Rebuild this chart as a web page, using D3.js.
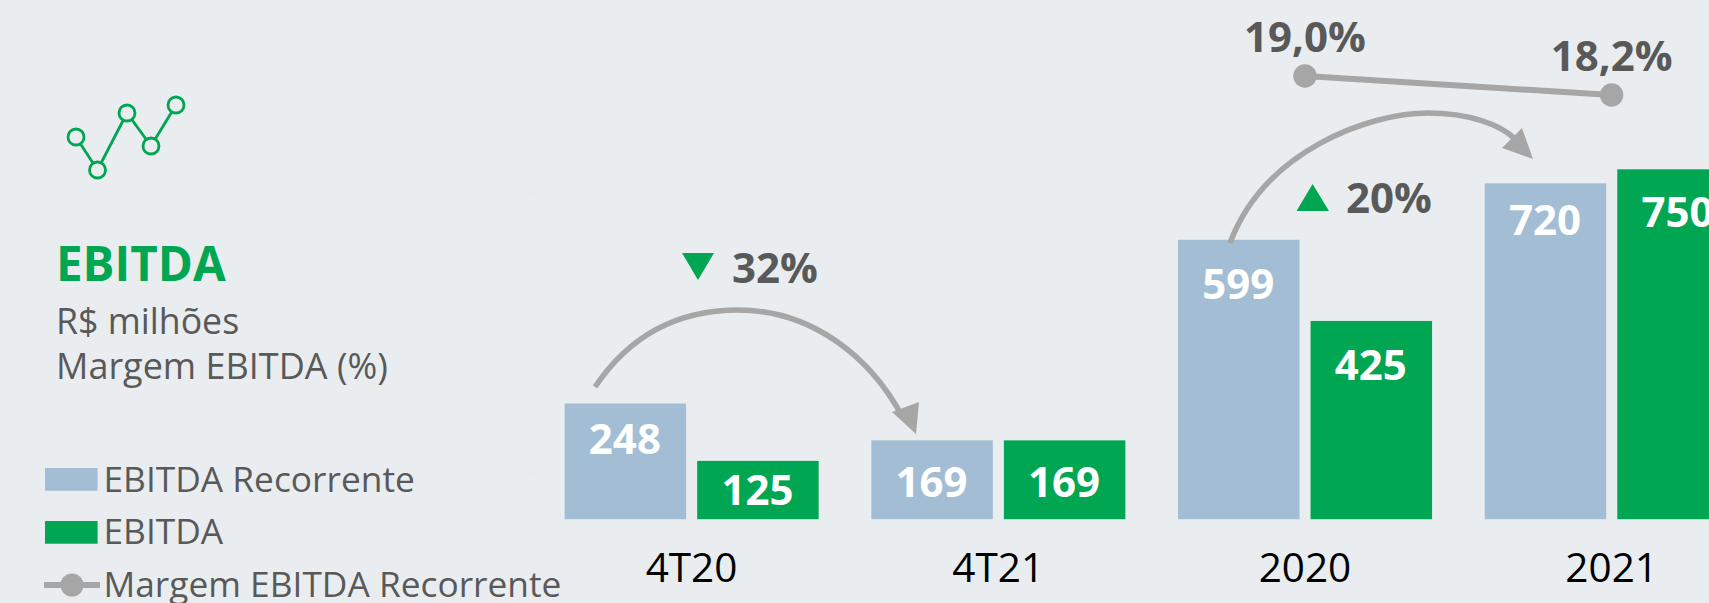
<!DOCTYPE html>
<html><head><meta charset="utf-8">
<style>
html,body{margin:0;padding:0;background:#e9edf0;overflow:hidden}
svg{display:block}
text{font-family:"Open Sans",sans-serif}
</style>
<script src="https://cdn.jsdelivr.net/npm/d3@7"></script>
</head><body><svg id="c" width="1709" height="603"></svg>
<script>
// data
const categories = ["4T20","4T21","2020","2021"];
const seriesNames = ["EBITDA Recorrente","EBITDA"];
const recorrente = [248,169,599,720];
const ebitda = [125,169,425,750];
const marginCategories = ["2020","2021"];
const marginValues = [19.0,18.2];
const marginLabels = ["19,0%","18,2%"];
const axisTicks = [100,200,300,400,500,600,700,800,900];

// layout
const W=1709,H=603,bg="#e9edf0",green="#00a651",blue="#a3bdd5",grey="#a6a6a6",ink="#595959";
const svg=d3.select("#c");
const x=d3.scaleBand().domain(categories).range([538.2,1765]).paddingInner(0.175).paddingOuter(0.0875);
const xs=d3.scaleBand().domain(seriesNames).range([-0.4,x.bandwidth()+0.6]).paddingInner(0.0833);
const y=d3.scaleLinear().domain([0,1000]).range([519.2,52.7]);
const ym=d3.scaleLinear().domain([18.2,19.0]).range([95,76]);
const colors=d3.scaleOrdinal().domain(seriesNames).range([blue,green]);

// faint axis ticks
const ax=svg.append("g").attr("transform","translate(535,0)").call(d3.axisLeft(y).tickValues(axisTicks).tickSize(4).tickFormat(""));
ax.select(".domain").remove();
ax.selectAll("line").attr("stroke","#e4e8f0");

// bars
const labelDy={ "EBITDA Recorrente":[50,57,59,52], "EBITDA":[44,57,59,58] };
[recorrente,ebitda].forEach((vals,si)=>{
  const name=seriesNames[si];
  const g=svg.append("g");
  g.selectAll("rect").data(vals).join("rect")
    .attr("x",(d,i)=>x(categories[i])+xs(name)).attr("y",d=>y(d))
    .attr("width",xs.bandwidth()).attr("height",d=>y(0)-y(d)).attr("fill",colors(name));
  g.selectAll("text").data(vals).join("text")
    .attr("x",(d,i)=>x(categories[i])+xs(name)+xs.bandwidth()/2-0.5)
    .attr("y",(d,i)=>y(d)+labelDy[name][i])
    .attr("text-anchor","middle").attr("font-size",42).attr("font-weight",700).attr("fill","#fff").text(d=>d);
});

// category labels
const xa=svg.append("g").attr("transform","translate(0,582)");
xa.selectAll("text").data(categories).join("text")
  .attr("x",d=>x(d)+x.bandwidth()/2).attr("text-anchor","middle")
  .attr("font-size",40.5).attr("fill","#000").text(d=>d);

// margin line
const mx=d=>x(d)+x.bandwidth()/2;
svg.append("path").datum(marginValues)
  .attr("d",d3.line().x((d,i)=>mx(marginCategories[i])).y(d=>ym(d)))
  .attr("stroke",grey).attr("stroke-width",6).attr("fill","none");
svg.selectAll(".m").data(marginValues).join("circle").attr("class","m")
  .attr("cx",(d,i)=>mx(marginCategories[i])).attr("cy",d=>ym(d)).attr("r",11.7).attr("fill",grey);
svg.selectAll(".ml").data(marginValues).join("text").attr("class","ml")
  .attr("x",(d,i)=>mx(marginCategories[i])).attr("y",d=>ym(d)-24)
  .attr("text-anchor","middle").attr("font-size",42).attr("font-weight",700).attr("fill",ink)
  .text((d,i)=>marginLabels[i]);

// variation arrows
function arrow(d,head){
  svg.append("path").attr("d",d).attr("fill","none").attr("stroke",grey).attr("stroke-width",5.5);
  svg.append("path").attr("d",head).attr("fill",grey);
}
arrow("M595,387C640,320 700,310 738,310C810,310 870,355 903,418","M892,412L919,402L916,434Z");
arrow("M1230,243C1265,150 1370,113 1428,113C1470,113 1500,125 1514,138","M1522,128L1533,159L1502,148Z");

// variation labels
svg.append("path").attr("d","M682,253L714,253L698,280Z").attr("fill",green);
svg.append("path").attr("d","M1296.5,211L1329,211L1312.6,184Z").attr("fill",green);
[["32%",732,283],["20%",1346,213]].forEach(t=>svg.append("text").attr("x",t[1]).attr("y",t[2])
  .attr("font-size",42).attr("font-weight",700).attr("fill",ink).text(t[0]));

// icon
const iconX=[76,97.5,127,151,176], iconY=[137,170,113,146,105];
svg.append("path").attr("d",d3.line()(iconX.map((v,i)=>[v,iconY[i]]))).attr("fill","none").attr("stroke",green).attr("stroke-width",2.8);
iconX.forEach((v,i)=>svg.append("circle").attr("cx",v).attr("cy",iconY[i]).attr("r",8).attr("fill",bg).attr("stroke",green).attr("stroke-width",2.8));

// title
svg.append("text").attr("x",56).attr("y",281).attr("font-size",47.5).attr("font-weight",700).attr("fill",green).text("EBITDA");
svg.append("text").attr("x",56).attr("y",334).attr("font-size",35.7).attr("fill",ink).text("R$ milhões");
svg.append("text").attr("x",56).attr("y",379).attr("font-size",36).attr("fill",ink).text("Margem EBITDA (%)");

// legend
svg.append("rect").attr("x",45).attr("y",468).attr("width",52.6).attr("height",22.7).attr("fill",blue);
svg.append("rect").attr("x",45).attr("y",521).attr("width",52.6).attr("height",22.7).attr("fill",green);
svg.append("line").attr("x1",44).attr("x2",100).attr("y1",585).attr("y2",585).attr("stroke",grey).attr("stroke-width",6);
svg.append("circle").attr("cx",72).attr("cy",585).attr("r",11.5).attr("fill",grey);
[["EBITDA Recorrente",492],["EBITDA",544],["Margem EBITDA Recorrente",597]].forEach(t=>
  svg.append("text").attr("x",103.5).attr("y",t[1]).attr("font-size",35.3).attr("fill",ink).text(t[0]));
</script></body></html>
